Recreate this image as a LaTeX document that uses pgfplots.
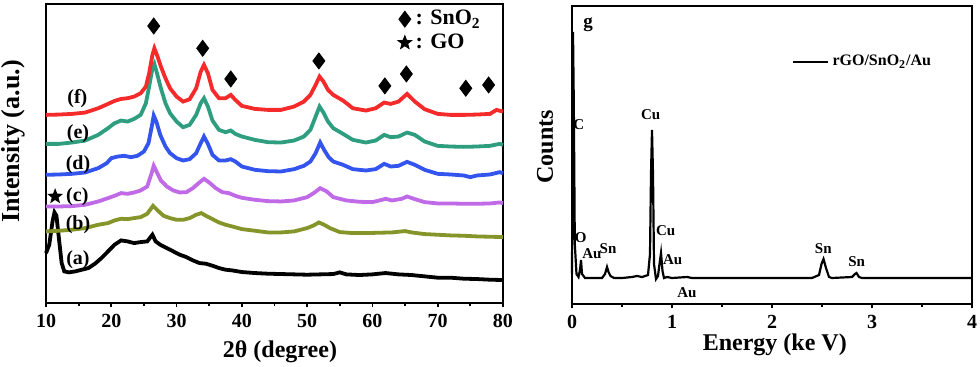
\documentclass[border=0pt]{standalone}
\usepackage{fontspec}
\setmainfont{Liberation Serif}
\usepackage{pgfplots}
\pgfplotsset{compat=1.18}

\definecolor{cf}{HTML}{F52A2A}
\definecolor{ce}{HTML}{2F9E80}
\definecolor{cd}{HTML}{3355EE}
\definecolor{cc}{HTML}{C06AE8}
\definecolor{cb}{HTML}{86952A}

% filled five-pointed star
\pgfdeclareplotmark{fstar}{%
  \pgfpathmoveto{\pgfqpointpolar{90}{\pgfplotmarksize}}%
  \pgfpathlineto{\pgfqpointpolar{126}{0.42\pgfplotmarksize}}%
  \pgfpathlineto{\pgfqpointpolar{162}{\pgfplotmarksize}}%
  \pgfpathlineto{\pgfqpointpolar{198}{0.42\pgfplotmarksize}}%
  \pgfpathlineto{\pgfqpointpolar{234}{\pgfplotmarksize}}%
  \pgfpathlineto{\pgfqpointpolar{270}{0.42\pgfplotmarksize}}%
  \pgfpathlineto{\pgfqpointpolar{306}{\pgfplotmarksize}}%
  \pgfpathlineto{\pgfqpointpolar{342}{0.42\pgfplotmarksize}}%
  \pgfpathlineto{\pgfqpointpolar{18}{\pgfplotmarksize}}%
  \pgfpathlineto{\pgfqpointpolar{54}{0.42\pgfplotmarksize}}%
  \pgfpathclose
  \pgfusepathqfillstroke}

\pgfplotsset{
  panel/.style={
    scale only axis,
    axis line style={line width=0.9pt},
    xtick pos=bottom, ytick=\empty,
    tick align=outside,
    major tick length=2.2pt, minor tick length=1.6pt,
    every tick/.style={line width=0.9pt, black},
    minor tick num=1,
    /pgf/number format/assume math mode=true,
    tick label style={font=\fontsize{10}{11}\selectfont\bfseries},
    label style={font=\fontsize{12}{14}\selectfont\bfseries},
    clip=false,
  },
}

\begin{document}
\begin{tikzpicture}
% ---------- XRD panel ----------
\begin{axis}[panel,
  at={(0,0)},
  width=228.5pt, height=149.5pt,
  xmin=10, xmax=80, ymin=0, ymax=898,
  xtick={10,20,...,80},
  xlabel={2θ (degree)},
  ylabel={Intensity (a.u.)},
  xlabel style={at={(axis description cs:0.512,-0.164)}, anchor=center},
  ylabel style={at={(axis description cs:-0.072,0.54)}, anchor=center,
    font=\fontsize{13}{15}\selectfont\bfseries},
  legend style={at={(axis description cs:0.765,1.0)}, anchor=north west,
    draw=none, fill=none, font=\fontsize{11}{12}\selectfont\bfseries,
    row sep=-1pt, inner sep=1pt},
  legend cell align=left,
]
\addplot[only marks, mark=diamond*, mark size=4pt, black] coordinates {
(26.5,832)(34.0,765)(38.3,673)(51.8,727)(61.9,652)(65.2,688)(74.3,645)(77.8,655)};
\addlegendentry{: SnO\textsubscript{2}}
\addplot[only marks, mark=fstar, mark size=3.6pt, black] coordinates {(11.4,320)};
\addlegendentry{: GO}

\addplot[black, line width=1.9pt, forget plot] coordinates {
(10,150)(10.5,175)(11,245)(11.3,272)(11.6,262)(12,190)(12.4,120)(12.8,95)(13.5,92)(14.5,95)
(15.5,100)(16.5,105)(17.5,118)(18.5,135)(19.5,155)(20.5,175)(21.5,188)(22.5,185)(23.5,180)
(24.5,183)(25.5,185)(26.3,205)(26.8,185)(27.5,175)(28.5,165)(29.5,155)(30.5,145)(31.5,138)
(32.5,128)(33.5,120)(34.5,118)(35.5,112)(36.5,105)(37.5,100)(38.5,98)(40,93)(42,90)(44,88)
(46,87)(48,86)(50,85)(52,86)(54,87)(55,92)(56,86)(58,84)(60,86)(62,90)(64,86)(66,84)(68,80)
(70,76)(72,76)(74,73)(76,72)(78,70)(80,69)};
\addplot[cb, line width=1.9pt, forget plot] coordinates {
(10,215)(12,217)(14,220)(16,225)(18,235)(19.5,240)(20.5,248)(21.5,253)(22.5,252)(23.5,255)
(24.5,258)(25.5,268)(26.4,292)(27,280)(28,262)(29,255)(30,250)(31,250)(32,255)(33,265)
(33.8,270)(34.5,262)(35.5,252)(36.5,242)(37.5,235)(38.5,230)(40,222)(42,217)(44,212)(46,212)
(48,215)(50,225)(51,233)(51.8,242)(52.6,235)(53.5,225)(55,213)(57,210)(59,210)(61,211)(63,212)
(65,216)(66,212)(68,207)(70,205)(72,203)(74,202)(76,200)(78,199)(80,198)};
\addplot[cc, line width=1.9pt, forget plot] coordinates {
(10,290)(12,290)(14,291)(16,295)(18,305)(19.5,315)(20.5,322)(21.5,330)(22.5,328)(23.5,332)
(24.5,338)(25.5,350)(26.1,385)(26.5,412)(27,392)(27.6,368)(28.5,350)(29.5,338)(30.5,332)
(31.5,333)(32.5,345)(33.5,362)(34.2,373)(35,362)(36,345)(37,333)(38,330)(39,322)(40,316)
(42,310)(44,306)(46,305)(48,308)(50,318)(51,330)(52,345)(53,335)(54,318)(56,308)(58,304)
(60,303)(61.5,310)(62,313)(63,308)(64.5,313)(65.3,320)(66.5,312)(68,303)(70,299)(72,299)
(74,298)(76,298)(78,299)(79.5,302)(80,300)};
\addplot[cd, line width=1.9pt, forget plot] coordinates {
(10,385)(12,386)(14,388)(16,392)(18,405)(19.3,420)(20,435)(21,440)(22,442)(23,438)(24,442)
(25,455)(25.7,480)(26.2,530)(26.5,563)(26.9,545)(27.5,505)(28.3,470)(29,450)(30,435)(31,428)
(32,432)(33,450)(33.7,480)(34.2,500)(34.8,478)(35.5,445)(36.5,428)(37.5,428)(38.3,432)(39,425)
(40,410)(42,400)(44,396)(46,395)(48,402)(49.5,412)(50.5,425)(51.3,450)(52,482)(52.6,460)
(53.3,438)(54,425)(55.5,415)(57,402)(59,398)(60.5,402)(61.8,418)(62.8,410)(64,412)(65.3,424)
(66.5,415)(68,400)(70,388)(72,386)(74,383)(75,378)(76,383)(78,386)(79.5,393)(80,390)};
\addplot[ce, line width=1.9pt, forget plot] coordinates {
(10,478)(12,478)(14,482)(16,488)(18,505)(19.5,525)(20.5,540)(21.5,548)(22.5,545)(23.5,553)
(24.5,565)(25.3,600)(25.8,650)(26.3,705)(26.6,718)(27,690)(27.6,645)(28.3,600)(29,570)(30,545)
(31,528)(32,535)(33,565)(33.7,600)(34.2,615)(34.8,590)(35.5,548)(36.5,520)(37.5,513)(38.3,518)
(39,508)(40,500)(42,490)(44,483)(46,482)(48,488)(49.5,500)(50.5,520)(51.3,560)(51.9,590)
(52.5,572)(53.2,545)(54,525)(55.5,508)(57,490)(59,482)(60.5,488)(61.8,505)(62.8,498)(64,500)
(65.3,512)(66.5,505)(68,485)(70,472)(72,470)(74,469)(76,470)(78,472)(79.5,478)(80,475)};
\addplot[cf, line width=1.9pt, forget plot] coordinates {
(10,565)(12,566)(14,568)(16,572)(18,585)(19.5,598)(20.5,607)(21.5,613)(22.5,615)(23.5,620)
(24.5,630)(25.3,650)(25.8,690)(26.3,745)(26.6,765)(27,745)(27.6,710)(28.3,675)(29,645)(30,620)
(31,605)(32,612)(33,645)(33.7,695)(34.2,715)(34.8,690)(35.5,640)(36.5,615)(37.5,615)(38.3,625)
(39,610)(40,592)(42,583)(44,580)(46,580)(48,590)(49.5,605)(50.5,625)(51.3,655)(51.9,680)
(52.5,665)(53.2,640)(54,625)(55.5,608)(57,585)(59,578)(60.5,585)(61.8,602)(62.8,598)(64,605)
(65.3,628)(66.5,605)(68,582)(70,568)(72,565)(74,565)(76,566)(78,568)(79,580)(80,575)};

\begin{scope}[every node/.style={font=\fontsize{10}{12}\selectfont\bfseries}]
\node at (axis cs:14.8,615) {(f)};
\node at (axis cs:14.9,510) {(e)};
\node at (axis cs:14.9,415) {(d)};
\node at (axis cs:14.8,320) {(c)};
\node at (axis cs:14.9,235) {(b)};
\node at (axis cs:14.9,130) {(a)};
\end{scope}
\end{axis}

% ---------- EDS panel ----------
\begin{axis}[panel,
  at={(263pt,-0.5pt)},
  width=200pt, height=149pt,
  xmin=0, xmax=4, ymin=0, ymax=298,
  xtick={0,1,2,3,4},
  xlabel={Energy (ke V)},
  ylabel={Counts},
  xlabel style={at={(axis description cs:0.507,-0.138)}, anchor=center},
  ylabel style={at={(axis description cs:-0.0675,0.527)}, anchor=center},
  legend style={at={(axis description cs:0.545,0.812)}, anchor=west,
    draw=none, fill=none, font=\fontsize{8}{9}\selectfont\bfseries, inner sep=1pt},
  legend image post style={line width=1pt},
]
\addplot[black, line width=1.1pt] coordinates {
(0.000,30)(0.005,150)(0.010,272)(0.018,200)(0.028,60)(0.045,30)(0.065,27)(0.080,34)(0.090,44)
(0.100,30)(0.130,26)(0.200,26)(0.300,26)(0.330,30)(0.350,37)(0.365,32)(0.385,28)(0.420,26)
(0.500,26)(0.600,27)(0.650,28)(0.700,27)(0.760,29)(0.780,50)(0.790,130)(0.800,174)(0.810,130)
(0.820,40)(0.840,25)(0.860,28)(0.875,40)(0.890,51)(0.905,33)(0.920,26)(0.950,27)(1.000,26)
(1.150,27)(1.200,26)(1.500,26)(2.000,26)(2.400,26)(2.470,29)(2.495,40)(2.515,45)(2.540,36)
(2.570,27)(2.600,26)(2.800,27)(2.830,30)(2.845,31)(2.870,27)(2.900,26)(3.000,26)(4.000,26)};
\addlegendentry{rGO/SnO\textsubscript{2}/Au}

\begin{scope}[every node/.style={font=\fontsize{7.5}{9}\selectfont\bfseries}]
\node at (axis cs:0.16,279) {\fontsize{9.5}{10}\selectfont g};
\node at (axis cs:0.067,179) {C};
\node at (axis cs:0.087,66) {O};
\node at (axis cs:0.20,50) {Au};
\node at (axis cs:0.36,55) {Sn};
\node at (axis cs:0.787,189) {Cu};
\node at (axis cs:0.937,73) {Cu};
\node at (axis cs:1.007,44) {Au};
\node at (axis cs:1.15,11) {Au};
\node at (axis cs:2.513,55) {Sn};
\node at (axis cs:2.847,42) {Sn};
\end{scope}
\end{axis}

\pgfresetboundingbox
\path[use as bounding box] (-23pt,-31.5pt) rectangle (467pt,151.5pt);
\end{tikzpicture}
\end{document}
